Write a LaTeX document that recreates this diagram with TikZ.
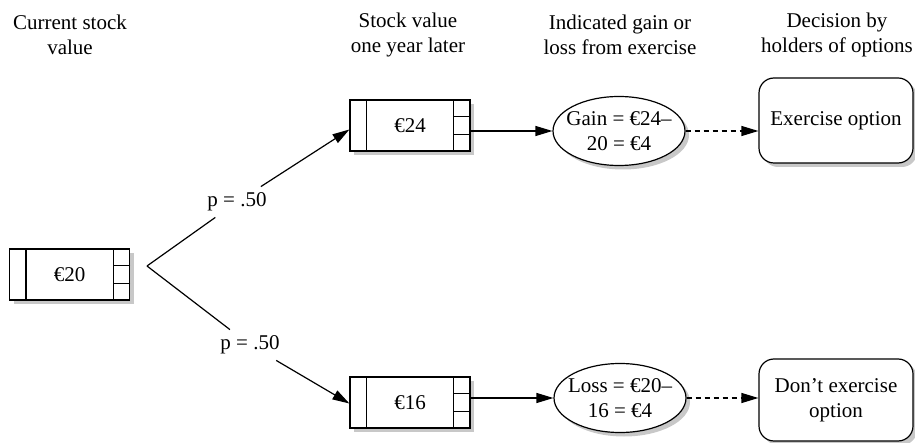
\documentclass[tikz,border=0pt]{standalone}
\usepackage{fontspec}
\setmainfont{Liberation Serif}
\usetikzlibrary{arrows.meta,shapes.geometric,calc}
\definecolor{shadowgray}{RGB}{200,200,200}
\newcommand\stockdiv[1]{%
  \draw[lw] ($(#1.north west)+(17,0)$) -- ($(#1.south west)+(17,0)$);
  \draw[lw] ($(#1.north east)+(-17,0)$) -- ($(#1.south east)+(-17,0)$);
  \draw[lw] ($(#1.north east)!1/3!(#1.south east)$) -- +(-17,0);
  \draw[lw] ($(#1.north east)!2/3!(#1.south east)$) -- +(-17,0);
}
\begin{document}
\begin{tikzpicture}[x=1pt,y=-1pt,
  every node/.style={font=\fontsize{21}{25}\selectfont},
  lw/.style={line width=1.2pt},
  shadowfill/.style={fill=shadowgray,draw=none},
  valbox/.style={draw,lw,fill=white,minimum width=120pt,minimum height=51pt,inner sep=0pt},
  gainell/.style={ellipse,draw,lw,fill=white,minimum width=132pt,minimum height=69pt,inner xsep=-16pt,inner ysep=0pt,align=center},
  decbox/.style={draw,lw,fill=white,rounded corners=15pt,minimum width=154pt,inner sep=2pt,align=center},
  head/.style={align=center,inner sep=0pt},
  plab/.style={inner sep=6pt},
  arr/.style={lw,-{Triangle[length=17pt,width=10pt]}},
  darr/.style={lw,dash pattern=on 5pt off 4pt,-{Triangle[length=17pt,width=10pt]}}
]
\useasboundingbox (0,0) rectangle (915,443);

% shadows (drawn first, behind the shapes)
\fill[shadowfill] (13.5,253) rectangle (133.5,304);
\fill[shadowfill] (354,104) rectangle (474,155);
\fill[shadowfill] (354,381) rectangle (474,432);
\fill[shadowfill] (623,135) ellipse [x radius=66, y radius=34.5];
\fill[shadowfill] (624,402) ellipse [x radius=66, y radius=34.5];
\fill[shadowfill,rounded corners=15pt] (763,82) rectangle (917,167);
\fill[shadowfill,rounded corners=15pt] (763,363) rectangle (917,445);

% headers
\node[head] (h1) at (70,35) {Current stock\\value};
\node[head] (h2) at (408,35) {Stock value\\one year later};
\node[head] (h3) at (620,35) {Indicated gain or\\loss from exercise};
\node[head] (h4) at (837,35) {Decision by\\holders of options};

% stock boxes
\node[valbox] (b20) at (69.5,274.5) {€20};
\stockdiv{b20}
\node[valbox] (b24) at (410,125.5) {€24};
\stockdiv{b24}
\node[valbox] (b16) at (410,402.5) {€16};
\stockdiv{b16}

% ellipses
\node[gainell] (e1) at (619,131) {Gain = €24–\\20 = €4};
\node[gainell] (e2) at (620,398) {Loss = €20–\\16 = €4};

% decisions
\node[decbox,minimum height=85pt] (r1) at (836,120.5) {Exercise option};
\node[decbox,minimum height=82pt] (r2) at (836,400) {Don’t exercise\\option};

% branches
\coordinate (root) at (147,266);
\node[plab] (p1) at (237,202) {p = .50};
\node[plab] (p2) at (250,345) {p = .50};
\draw[lw] (root) -- (p1);
\draw[arr] (p1) -- ([yshift=-4pt]b24.west);
\draw[lw] (root) -- (p2);
\draw[arr] (p2) -- ([yshift=-1pt]b16.west);

% connectors
\draw[arr] (b24.east |- e1.center) -- (e1.west);
\draw[arr] (b16.east |- e2.center) -- (e2.west);
\draw[darr] (e1.east) -- (e1.east -| r1.west);
\draw[darr] (e2.east) -- (e2.east -| r2.west);
\end{tikzpicture}
\end{document}
